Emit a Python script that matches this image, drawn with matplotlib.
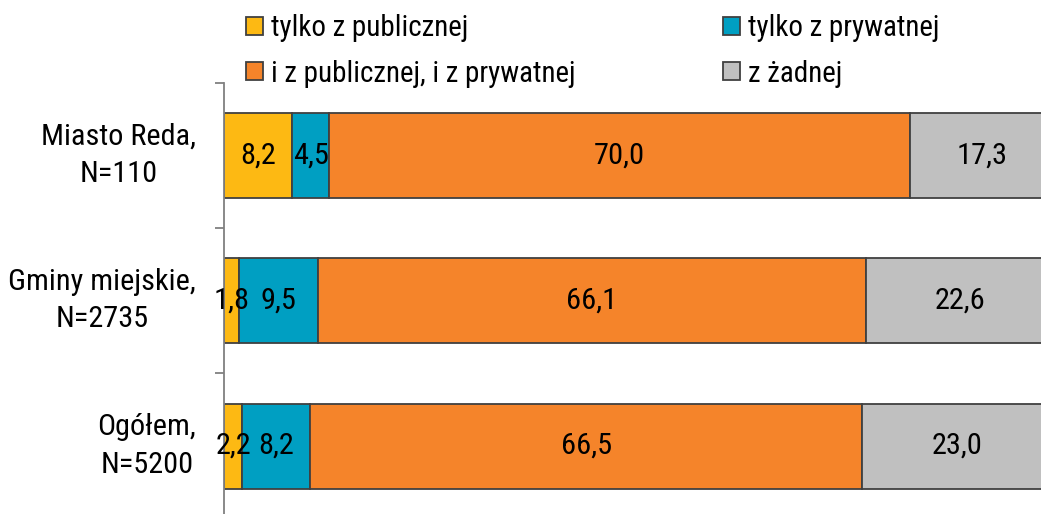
import matplotlib
matplotlib.use("Agg")
import matplotlib.pyplot as plt
from matplotlib import font_manager as fm
import numpy as np

names = {f.name for f in fm.fontManager.ttflist}
FAM, SCALE = "Liberation Sans", 0.87
for cand, sc in [("Liberation Sans Narrow", 1.0), ("Arial Narrow", 1.0),
                 ("Roboto Condensed", 0.95), ("DejaVu Sans Condensed", 0.82)]:
    if cand in names:
        FAM, SCALE = cand, sc
        break
plt.rcParams['font.family'] = [FAM, 'DejaVu Sans']

categories = ["Miasto Reda,\nN=110", "Gminy miejskie,\nN=2735", "Ogółem,\nN=5200"]
series_names = ["tylko z publicznej", "tylko z prywatnej", "i z publicznej, i z prywatnej", "z żadnej"]
publ = [8.2, 1.8, 2.2]
pryw = [4.5, 9.5, 8.2]
both = [70.0, 66.1, 66.5]
none = [17.3, 22.6, 23.0]
colors = ["#FDB913", "#009FC2", "#F5842A", "#C0C0C0"]

FS_TICK = 22.9 * SCALE
FS_DATA = 23 * SCALE
FS_LEG = 22 * SCALE

W, H = 1041, 514
fig = plt.figure(figsize=(W/100, H/100), dpi=100)
ax_left = 224 / W
ax_width = 829.5 / W
ax_top = 82.7
ax_bottom = 518.7
ax = fig.add_axes([ax_left, 1 - ax_bottom / H, ax_width, (ax_bottom - ax_top) / H])

ypos = np.arange(len(categories))
left = np.zeros(len(categories))
handles = []
for name, vals, c in zip(series_names, [publ, pryw, both, none], colors):
    bars = ax.barh(ypos, vals, left=left, height=0.585, color=c,
                   edgecolor="#404040", linewidth=1.3, label=name)
    ax.bar_label(bars, labels=[f"{v:.1f}".replace(".", ",") for v in vals],
                 label_type="center", fontsize=FS_DATA, color="black")
    handles.append(bars)
    left += np.array(vals)

ax.set_xlim(0, 100)
ax.set_ylim(len(categories) - 0.5, -0.5)
ax.set_xticks([])
ax.set_yticks(ypos)
ax.set_yticklabels(categories, fontsize=FS_TICK, ha="right", multialignment="center",
                   va="center", linespacing=1.42)
ax.tick_params(axis="y", which="major", length=0, pad=20)
ax.set_yticks(np.arange(-0.5, len(categories), 1.0), minor=True)
ax.tick_params(axis="y", which="minor", length=6.5, width=1.3, color="#808080")
for s in ["top", "right", "bottom"]:
    ax.spines[s].set_visible(False)
ax.spines["left"].set_color("#808080")
ax.spines["left"].set_linewidth(1.3)

fs_px = FS_LEG * 100 / 72
ls = max(0.1, (44 - 0.92 * fs_px) / fs_px)
leg_kw = dict(loc="center left", frameon=False, fontsize=FS_LEG,
              handlelength=17 / fs_px, handleheight=17 / fs_px,
              handletextpad=0.28, labelspacing=ls, borderaxespad=0, borderpad=0)
fig.legend([handles[0], handles[2]], [series_names[0], series_names[2]],
           bbox_to_anchor=(246 / W, 1 - 51 / H), **leg_kw)
fig.legend([handles[1], handles[3]], [series_names[1], series_names[3]],
           bbox_to_anchor=(723 / W, 1 - 51 / H), **leg_kw)

fig.savefig("out.png", dpi=100)
